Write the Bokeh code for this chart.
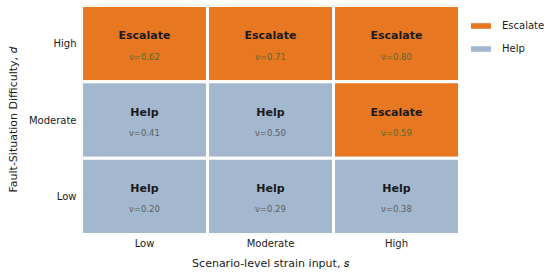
from bokeh.plotting import figure
from bokeh.layouts import row
from bokeh.models import ColumnDataSource, Legend, LegendItem, Range1d
from bokeh.core.properties import value
from bokeh.embed import file_html
from bokeh.resources import INLINE

strain_levels = ["Low", "Moderate", "High"]
difficulty_levels = ["Low", "Moderate", "High"]

cell_s = ["Low", "Moderate", "High", "Low", "Moderate", "High", "Low", "Moderate", "High"]
cell_d = ["High", "High", "High", "Moderate", "Moderate", "Moderate", "Low", "Low", "Low"]
cell_v = [0.62, 0.71, 0.80, 0.41, 0.50, 0.59, 0.20, 0.29, 0.38]
cell_decision = ["Escalate", "Escalate", "Escalate", "Help", "Help", "Escalate", "Help", "Help", "Help"]
legend_labels = ["Escalate", "Help"]

colors = {"Escalate": "#E87722", "Help": "#A3B8CE"}
vcolors = {"Escalate": "#56682E", "Help": "#5A5F66"}

FONT = "DejaVu Sans"

p = figure(width=459, height=275, x_range=strain_levels, y_range=difficulty_levels,
           output_backend="svg", toolbar_location=None,
           min_border_left=81, min_border_right=0, min_border_top=5, min_border_bottom=41)
p.outline_line_color = None
p.grid.grid_line_color = None
p.background_fill_color = "white"

src = ColumnDataSource(dict(
    s=cell_s, d=cell_d,
    fill=[colors[c] for c in cell_decision],
    label=cell_decision,
    vlabel=["\u03bd=%.2f" % v for v in cell_v],
    vcol=[vcolors[c] for c in cell_decision],
))

p.rect(x="s", y="d", width=1, height=1, source=src, fill_color="fill",
       line_color="white", line_width=3)

p.text(x="s", y="d", text="label", source=src, text_font=value(FONT),
       text_font_style="bold", text_font_size="11px", text_color="#1a1a1a",
       text_align="center", text_baseline="middle", y_offset=-8)
p.text(x="s", y="d", text="vlabel", source=src, text_font=value(FONT),
       text_font_size="8.5px", text_color="vcol",
       text_align="center", text_baseline="middle", y_offset=13)

for ax in (p.xaxis[0], p.yaxis[0]):
    ax.axis_line_color = None
    ax.major_tick_line_color = None
    ax.minor_tick_line_color = None
    ax.major_tick_out = 0
    ax.major_tick_in = 0
    ax.minor_tick_out = 0
    ax.major_label_text_font = FONT
    ax.major_label_text_font_size = "10px"
    ax.major_label_text_color = "#1a1a1a"
    ax.axis_label_text_font = FONT
    ax.axis_label_text_font_size = "11px"
    ax.axis_label_text_font_style = "normal"
    ax.axis_label_text_color = "#1a1a1a"

p.xaxis.axis_label = "Scenario-level strain input, \U0001D460"
p.yaxis.axis_label = "Fault-Situation Difficulty, \U0001D451"
p.xaxis.major_label_standoff = 3
p.yaxis.major_label_standoff = 5
p.xaxis.axis_label_standoff = 5
p.yaxis.axis_label_standoff = 6

# legend panel
p2 = figure(width=91, height=275, output_backend="svg", toolbar_location=None,
            x_range=Range1d(0, 1), y_range=Range1d(0, 1), min_border=0)
p2.axis.visible = False
p2.grid.grid_line_color = None
p2.outline_line_color = None
items = []
for lab in legend_labels:
    r = p2.rect(x=[-5], y=[-5], width=0.1, height=0.1, fill_color=colors[lab], line_alpha=0)
    items.append(LegendItem(label=lab, renderers=[r]))
legend = Legend(items=items, location=(9, 180), border_line_color=None,
                background_fill_alpha=0, glyph_width=25, glyph_height=7,
                label_text_font=FONT, label_text_font_size="10px", label_standoff=9,
                spacing=12, padding=0, margin=0, label_text_color="#1a1a1a")
p2.add_layout(legend, "center")

layout = row(p, p2)
open("out.html", "w").write(file_html(layout, INLINE))
